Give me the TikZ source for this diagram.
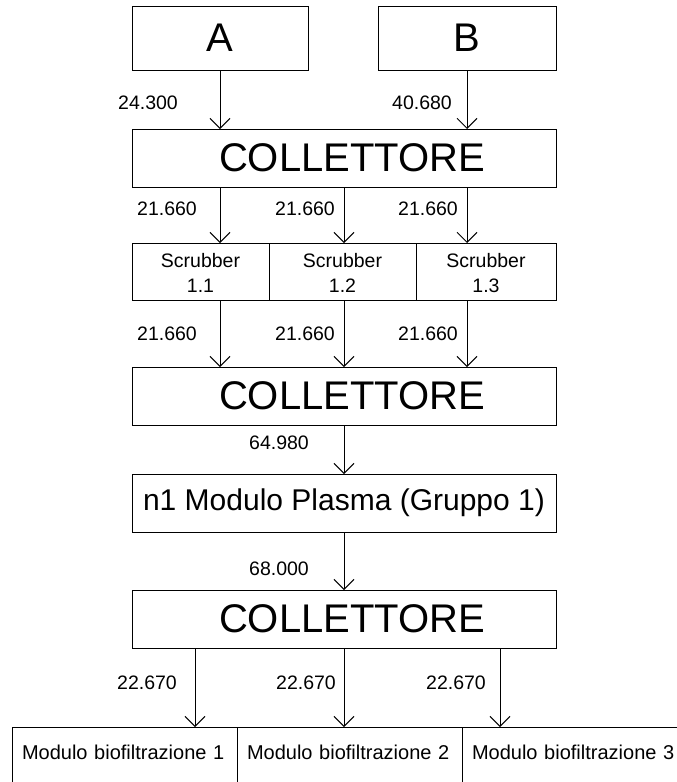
\documentclass[tikz,border=0pt]{standalone}
\usepackage{fontspec}
\setmainfont{Liberation Sans}
\usetikzlibrary{positioning,arrows.meta}

\newcommand{\scrlab}[1]{\rule{0pt}{23.5pt}Scrubber\\#1\strut}

\tikzset{
  box/.style={draw, line width=1pt, inner sep=2pt, outer sep=0pt},
  big/.style={box, minimum width=424pt, minimum height=58pt, font=\fontsize{40}{44}\selectfont},
  coll/.style={big, execute at begin node={\hspace*{16pt}}},
  scrub/.style={box, minimum height=57pt, inner ysep=0pt, align=center, font=\fontsize{19.5}{25}\selectfont},
  modbox/.style={box, text width=205pt, inner xsep=10pt, inner ysep=4pt, text height=28pt, text depth=80pt, align=left, font=\fontsize{20}{24}\selectfont},
  flow/.style={line width=1pt, -{Straight Barb[length=10pt,width=20pt]}},
  num/.style={font=\fontsize{19.5}{22}\selectfont, inner sep=0pt},
}

\begin{document}
\begin{tikzpicture}[x=1pt,y=-1pt]
      \useasboundingbox (0,0) rectangle (677,782);
      \clip (0,0) rectangle (677,782);
      % sources
      \node[box, minimum width=176pt, minimum height=64pt, font=\fontsize{40}{44}\selectfont] (A) at (220,38) {A};
      \node[box, minimum width=178pt, minimum height=64pt, font=\fontsize{40}{44}\selectfont] (B) at (467,38) {B};
      \node[coll] (c1) at (344,158) {COLLETTORE};
      % scrubbers
      \node[scrub, minimum width=137pt] (s1) at (200.5,271.5) {\scrlab{1.1}};
      \node[scrub, minimum width=147pt, right=0pt of s1] (s2) {\scrlab{1.2}};
      \node[scrub, minimum width=140pt, right=0pt of s2] (s3) {\scrlab{1.3}};
      \node[coll] (c2) at (344,396) {COLLETTORE};
      \node[big, font=\fontsize{30}{34}\selectfont] (p) at (344,503) {n1 Modulo Plasma (Gruppo 1)};
      \node[coll] (c3) at (344,619) {COLLETTORE};
      % biofilters
      \node[modbox, anchor=north west] (m1) at (12,727) {Modulo biofiltrazione 1};
      \node[modbox, right=0pt of m1] (m2) {Modulo biofiltrazione 2};
      \node[modbox, right=0pt of m2] (m3) {Modulo biofiltrazione 3};
      \coordinate (o1) at (195,0);
      \coordinate (o2) at (344,0);
      \coordinate (o3) at (500,0);

      % flows
      \draw[flow] (A) -- (A |- c1.north);
      \draw[flow] (B) -- (B |- c1.north);
      \draw[flow] (c1.south -| A) -- (s1.north -| A);
      \draw[flow] (c1.south) -- (s2.north -| c1);
      \draw[flow] (c1.south -| B) -- (s3.north -| B);
      \draw[flow] (s1.south -| A) -- (c2.north -| A);
      \draw[flow] (s2.south -| c1) -- (c2.north);
      \draw[flow] (s3.south -| B) -- (c2.north -| B);
      \draw[flow] (c2) -- (p);
      \draw[flow] (p) -- (c3);
      \draw[flow] (c3.south -| o1) -- (m1.north -| o1);
      \draw[flow] (c3.south -| o2) -- (m2.north -| o2);
      \draw[flow] (c3.south -| o3) -- (m3.north -| o3);

      % portate
      \node[num] (qa) at (148,103) {24.300};
      \node[num] (qb) at (422,103) {40.680};
      \node[num] (q11) at (167,209) {21.660};
      \node[num] (q12) at (305,209) {21.660};
      \node[num] (q13) at (428,209) {21.660};
      \node[num] (q21) at (167,334) {21.660};
      \node[num] (q22) at (305,334) {21.660};
      \node[num] (q23) at (428,334) {21.660};
      \node[num] (qp) at (279,443) {64.980};
      \node[num] (qc) at (279,569) {68.000};
      \node[num] (q31) at (147,683) {22.670};
      \node[num] (q32) at (306,683) {22.670};
      \node[num] (q33) at (456,683) {22.670};
    \end{tikzpicture}
\end{document}
